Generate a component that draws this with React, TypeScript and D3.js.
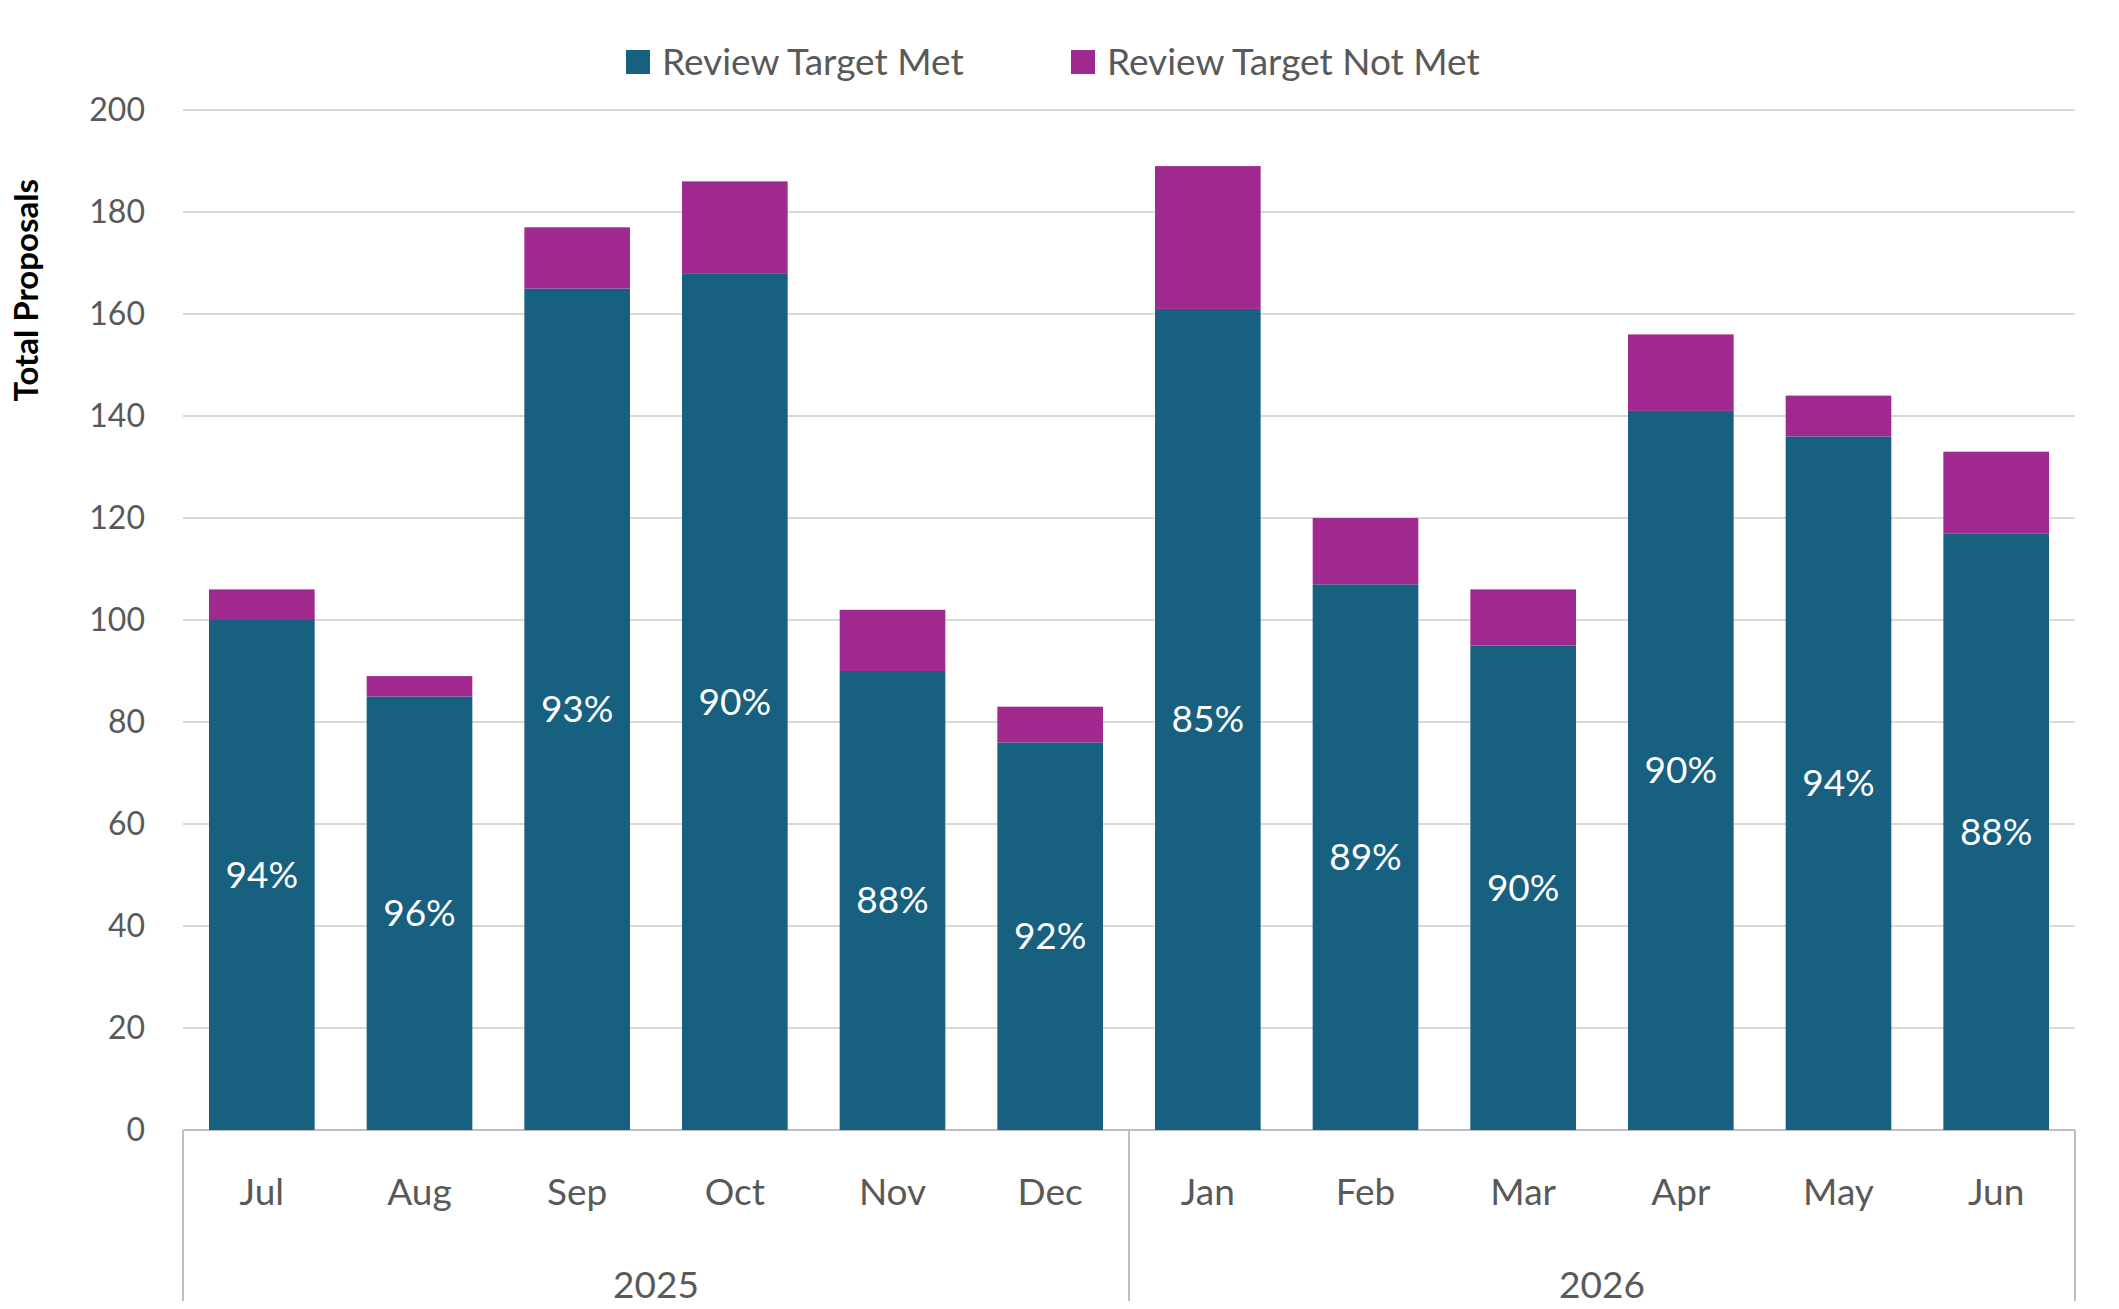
import * as d3 from 'd3';

const months = ['Jul', 'Aug', 'Sep', 'Oct', 'Nov', 'Dec', 'Jan', 'Feb', 'Mar', 'Apr', 'May', 'Jun'];
const years = ['2025', '2026'];
const met = [100, 85, 165, 168, 90, 76, 161, 107, 95, 141, 136, 117];
const notMet = [6, 4, 12, 18, 12, 7, 28, 13, 11, 15, 8, 16];
const pctLabels = ['94%', '96%', '93%', '90%', '88%', '92%', '85%', '89%', '90%', '90%', '94%', '88%'];
const yTicks = [0, 20, 40, 60, 80, 100, 120, 140, 160, 180, 200];

const W = 2119, H = 1309;
const M = { left: 183, right: 2075, top: 110, bottom: 1130 };
const C_MET = '#17607f';
const C_NOT = '#a0298f';
const FONT = 'Lato, "Open Sans", sans-serif';

export default function App() {
  const idx = months.map((_, i) => String(i));
  const x = d3.scaleBand().domain(idx).range([M.left, M.right]).paddingInner(0.33).paddingOuter(0.165);
  const y = d3.scaleLinear().domain([0, 200]).range([M.bottom, M.top]);
  const mid = (M.left + M.right) / 2;
  return (
    <div style={{ margin: -8 }}>
      <svg width={W} height={H} style={{ display: 'block', background: '#fff' }} fontFamily={FONT}>
        {yTicks.map(t => (
          <g key={t}>
            <line x1={M.left} x2={M.right} y1={y(t)} y2={y(t)} stroke={t === 0 ? '#bfbfbf' : '#d9d9d9'} strokeWidth={2} />
            <text x={M.left - 38} y={y(t)} dy="0.35em" textAnchor="end" fontSize={32} fill="#595959">{t}</text>
          </g>
        ))}
        {[M.left, mid, M.right].map((xx, i) => (
          <line key={i} x1={xx} x2={xx} y1={M.bottom} y2={H} stroke="#bfbfbf" strokeWidth={2} />
        ))}
        {months.map((m, i) => {
          const bx = x(String(i))!;
          const bw = x.bandwidth();
          return (
            <g key={m}>
              <rect x={bx} y={y(met[i])} width={bw} height={y(0) - y(met[i])} fill={C_MET} />
              <rect x={bx} y={y(met[i] + notMet[i])} width={bw} height={y(met[i]) - y(met[i] + notMet[i])} fill={C_NOT} />
              <text x={bx + bw / 2} y={y(met[i] / 2)} dy="0.35em" textAnchor="middle" fontSize={37} fill="#fff">{pctLabels[i]}</text>
              <text x={bx + bw / 2} y={1192} dy="0.35em" textAnchor="middle" fontSize={37} fill="#595959">{m}</text>
            </g>
          );
        })}
        {years.map((yr, i) => (
          <text key={yr} x={i === 0 ? (M.left + mid) / 2 : (mid + M.right) / 2} y={1285} dy="0.35em" textAnchor="middle" fontSize={37} fill="#595959">{yr}</text>
        ))}
        <text transform={`translate(38,${(y(200) + y(145)) / 2 + 40}) rotate(-90)`} textAnchor="middle" fontSize={33} fontWeight="bold" fill="#000">Total Proposals</text>
        <g>
          <rect x={626} y={50} width={24} height={24} fill={C_MET} />
          <text x={662} y={62} dy="0.35em" fontSize={37} fill="#595959">Review Target  Met</text>
          <rect x={1071} y={50} width={24} height={24} fill={C_NOT} />
          <text x={1107} y={62} dy="0.35em" fontSize={37} fill="#595959">Review Target Not Met</text>
        </g>
      </svg>
    </div>
  );
}
